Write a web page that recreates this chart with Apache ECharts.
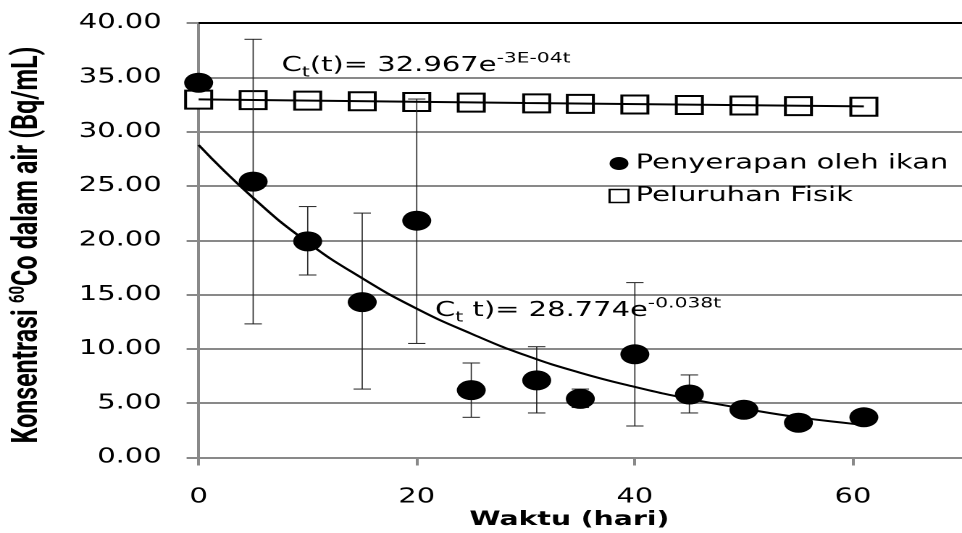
<!DOCTYPE html>
<html><head><meta charset="utf-8">
<script src="https://cdn.jsdelivr.net/npm/echarts@6/dist/echarts.min.js"></script>
<style>
html,body{margin:0;padding:0;overflow:hidden;background:#fff;width:962px;height:533px}
#c{width:664px;height:533px;transform:scaleX(1.4488);transform-origin:0 0;}
</style></head>
<body><div id="c"></div>
<script>
// ---- data ----
const days = [0, 5, 10, 15, 20, 25, 31, 35, 40, 45, 50, 55, 61];
const absorption = [34.5, 25.4, 19.9, 14.3, 21.8, 6.2, 7.1, 5.4, 9.5, 5.8, 4.4, 3.2, 3.7];
const errLow  = [null, 12.3, 16.8, 6.3, 10.5, 3.7, 4.1, 4.6, 2.9, 4.1, null, null, null];
const errHigh = [null, 38.5, 23.1, 22.5, 33.0, 8.7, 10.2, 6.3, 16.1, 7.6, null, null, null];
const physical = [32.95, 32.90, 32.85, 32.80, 32.73, 32.67, 32.60, 32.56, 32.50, 32.45, 32.40, 32.35, 32.29];
const absTrendX = [0, 5, 10, 15, 20, 25, 30, 35, 40, 45, 50, 55, 60, 61];
const absTrendY = [28.77, 23.9, 19.8, 16.5, 13.7, 11.4, 9.4, 7.8, 6.5, 5.4, 4.5, 3.7, 3.1, 3.0];
const physTrendX = [0, 30, 61];
const physTrendY = [32.97, 32.64, 32.32];
const yTicks = [0, 5, 10, 15, 20, 25, 30, 35, 40];
const xTicks = [0, 20, 40, 60];
const seriesNames = ['Penyerapan oleh ikan', 'Peluruhan Fisik'];

const GRAY = '#898989';
const FONT = 'DejaVu Sans';
const TITLE_FONT = 'Roboto, "Liberation Sans", sans-serif';
const chart = echarts.init(document.getElementById('c'), null, {devicePixelRatio: 2});

const errData = [];
days.forEach((d, i) => { if (errLow[i] != null) errData.push([d, errLow[i], errHigh[i]]); });

chart.setOption({
  animation: false,
  backgroundColor: '#fff',
  grid: {left: 137.1, right: -9.6, top: 23, bottom: 75.5, containLabel: false},
  xAxis: [{
    type: 'value', min: 0, max: 70, interval: 20,
    axisLine: {show: true, lineStyle: {color: GRAY, width: 2}},
    axisTick: {show: true, inside: false, length: 8, lineStyle: {color: GRAY, width: 2}},
    splitLine: {show: false},
    axisLabel: {fontFamily: FONT, fontSize: 20, color: '#000', margin: 30, showMaxLabel: false,
      formatter: v => xTicks.includes(v) ? String(v) : ''}
  }, {
    type: 'value', position: 'top', min: 0, max: 70,
    axisLine: {show: true, onZero: false, lineStyle: {color: '#000', width: 2}},
    axisTick: {show: false}, axisLabel: {show: false}, splitLine: {show: false}
  }],
  yAxis: {
    type: 'value', min: 0, max: 40, interval: 5,
    axisLine: {show: true, lineStyle: {color: GRAY, width: 2}},
    axisTick: {show: true, length: 8.3, lineStyle: {color: GRAY, width: 2}},
    splitLine: {show: true, lineStyle: {color: GRAY, width: 2}},
    axisLabel: {fontFamily: FONT, fontSize: 20, color: '#000', margin: 25.5,
      formatter: v => yTicks.includes(v) ? v.toFixed(2) : ''}
  },
  legend: {
    orient: 'vertical', left: 420, top: 153.5, padding: 0, itemGap: 12.5,
    itemWidth: 13, itemHeight: 13,
    textStyle: {fontFamily: FONT, fontSize: 20, color: '#000'},
    data: [
      {name: seriesNames[0], icon: 'circle', itemStyle: {color: '#000', opacity: 1}},
      {name: seriesNames[1], icon: 'rect', itemStyle: {color: '#fff', borderColor: '#000', borderWidth: 1.5}}
    ]
  },
  series: [
    {
      name: seriesNames[1], type: 'scatter', z: 2,
      symbol: 'rect', symbolSize: 18,
      itemStyle: {color: '#fff', borderColor: '#000', borderWidth: 2, opacity: 1},
      data: days.map((d, i) => [d, physical[i]])
    },
    {
      type: 'custom', z: 3, silent: true,
      data: errData,
      encode: {x: 0, y: [1, 2]},
      renderItem: function (params, api) {
        const x = api.value(0);
        const lo = api.coord([x, api.value(1)]);
        const hi = api.coord([x, api.value(2)]);
        const hw = 6;
        const st = {stroke: '#222', lineWidth: 1};
        return {type: 'group', children: [
          {type: 'line', shape: {x1: lo[0], y1: lo[1], x2: hi[0], y2: hi[1]}, style: {stroke: '#222', lineWidth: 0.8}},
          {type: 'line', shape: {x1: lo[0] - hw, y1: lo[1], x2: lo[0] + hw, y2: lo[1]}, style: st},
          {type: 'line', shape: {x1: hi[0] - hw, y1: hi[1], x2: hi[0] + hw, y2: hi[1]}, style: st}
        ]};
      }
    },
    {
      type: 'line', z: 4, silent: true, showSymbol: false, symbol: 'none',
      lineStyle: {color: '#000', width: 2},
      data: physTrendX.map((x, i) => [x, physTrendY[i]])
    },
    {
      name: seriesNames[0], type: 'scatter', z: 5,
      symbol: 'circle', symbolSize: 20,
      itemStyle: {color: '#000', opacity: 1},
      data: days.map((d, i) => [d, absorption[i]])
    },
    {
      type: 'line', z: 6, silent: true, showSymbol: false, symbol: 'none', smooth: true,
      lineStyle: {color: '#000', width: 2},
      data: absTrendX.map((x, i) => [x, absTrendY[i]])
    }
  ],
  graphic: [
    {
      type: 'text', x: 19, y: 245, rotation: Math.PI / 2, z: 10,
      style: {
        text: '{b|Konsentrasi }{s|60}{b|Co dalam air (Bq/mL)}',
        align: 'center', verticalAlign: 'middle', fill: '#000',
        rich: {
          b: {fontFamily: TITLE_FONT, fontWeight: 'bold', fontSize: 25, fill: '#000', lineHeight: 28},
          s: {fontFamily: TITLE_FONT, fontWeight: 'bold', fontSize: 15, fill: '#000', lineHeight: 15, verticalAlign: 'top'}
        }
      }
    },
    {
      type: 'text', x: 393, y: 520, z: 10,
      style: {text: 'Waktu (hari)', fontFamily: FONT, fontWeight: 'bold', fontSize: 19.5,
        align: 'center', verticalAlign: 'middle', fill: '#000'}
    },
    {
      type: 'text', x: 194.4, y: 66, z: 10,
      style: {
        text: '{m|C}{t|t}{m|(t)= 32.967e}{p|-3E-04t}',
        align: 'left', verticalAlign: 'middle', fill: '#000',
        rich: {
          m: {fontFamily: FONT, fontSize: 20, lineHeight: 28, fill: '#000'},
          t: {fontFamily: FONT, fontSize: 14, lineHeight: 12, verticalAlign: 'bottom', fill: '#000'},
          p: {fontFamily: FONT, fontSize: 14, lineHeight: 12, verticalAlign: 'top', fill: '#000'}
        }
      }
    },
    {
      type: 'text', x: 300.3, y: 310.8, z: 10,
      style: {
        text: '{m|C}{t|t}{m| t)= 28.774e}{p|-0.038t}',
        align: 'left', verticalAlign: 'middle', fill: '#000',
        rich: {
          m: {fontFamily: FONT, fontSize: 20, lineHeight: 28, fill: '#000'},
          t: {fontFamily: FONT, fontSize: 14, lineHeight: 12, verticalAlign: 'bottom', fill: '#000'},
          p: {fontFamily: FONT, fontSize: 14, lineHeight: 12, verticalAlign: 'top', fill: '#000'}
        }
      }
    }
  ]
});
</script></body></html>
